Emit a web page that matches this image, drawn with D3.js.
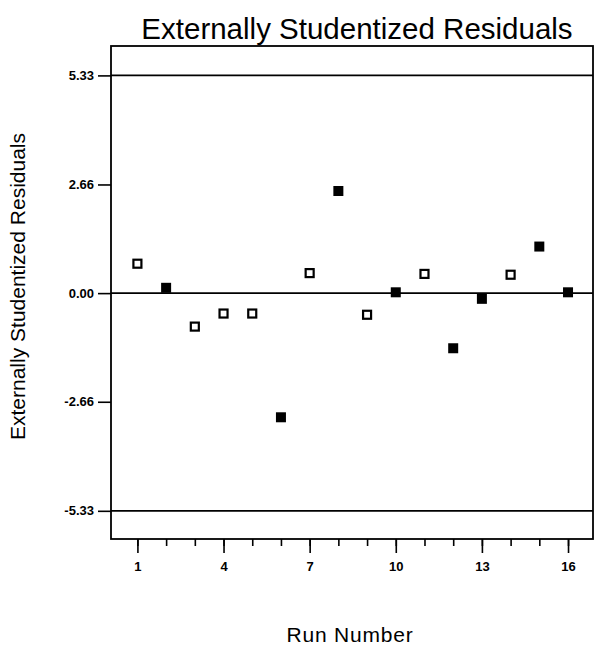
<!DOCTYPE html>
<html>
<head>
<meta charset="utf-8">
<script src="https://cdn.jsdelivr.net/npm/d3@7"></script>
<style>
  html, body { margin: 0; padding: 0; background: #fff; }
  svg { display: block; }
  text { font-family: "Liberation Sans", Arial, sans-serif; fill: #000; }
</style>
</head>
<body>
<svg id="chart" width="596" height="645"></svg>
<script>
// ---- data ----
const runs = [1, 2, 3, 4, 5, 6, 7, 8, 9, 10, 11, 12, 13, 14, 15, 16];
const residuals = [0.72, 0.13, -0.82, -0.50, -0.50, -3.04, 0.49, 2.50, -0.53, 0.02, 0.47, -1.35, -0.14, 0.45, 1.14, 0.02];
const filled = [false, true, false, false, false, true, false, true, false, true, false, true, true, false, true, true];
const yTicks = [5.33, 2.66, 0.00, -2.66, -5.33];
const yTickLabels = ["5.33", "2.66", "0.00", "-2.66", "-5.33"];
const xMajorTicks = [1, 4, 7, 10, 13, 16];
const xMinorTicks = [1, 2, 3, 4, 5, 6, 7, 8, 9, 10, 11, 12, 13, 14, 15, 16];
const refLines = [5.33, 0, -5.33];
const titleText = "Externally Studentized Residuals";
const yLabelText = "Externally Studentized Residuals";
const xLabelText = "Run Number";

// ---- layout ----
const mLeft = 111, mRight = 593, mTop = 46, mBottom = 539;
const svg = d3.select("#chart");

const x = d3.scaleLinear().domain([0.08, 16.87]).range([mLeft, mRight]);
const y = d3.scaleLinear().domain([-6.02, 6.05]).range([mBottom, mTop]);

// frame
svg.append("rect")
  .attr("x", mLeft).attr("y", mTop)
  .attr("width", mRight - mLeft).attr("height", mBottom - mTop)
  .attr("fill", "none").attr("stroke", "#000").attr("stroke-width", 1.8);

// reference lines
svg.selectAll("line.ref").data(refLines).enter().append("line")
  .attr("class", "ref")
  .attr("x1", mLeft).attr("x2", mRight)
  .attr("y1", d => y(d)).attr("y2", d => y(d))
  .attr("stroke", "#000").attr("stroke-width", 1.8);

// y axis
const yAxis = d3.axisLeft(y)
  .tickValues(yTicks)
  .tickFormat((d, i) => yTickLabels[i])
  .tickSize(13).tickPadding(4);
const gy = svg.append("g").attr("transform", `translate(${mLeft},0)`).call(yAxis);
gy.select(".domain").remove();
gy.selectAll(".tick line").attr("stroke", "#000").attr("stroke-width", 1.6);
gy.selectAll(".tick text")
  .style("font-family", '"Liberation Sans", Arial, sans-serif')
  .style("font-size", "13px").style("font-weight", "bold");

// x axis minor ticks
const xMinor = d3.axisBottom(x).tickValues(xMinorTicks).tickSize(7).tickFormat("");
const gxm = svg.append("g").attr("transform", `translate(0,${mBottom})`).call(xMinor);
gxm.select(".domain").remove();
gxm.selectAll(".tick line").attr("stroke", "#000").attr("stroke-width", 1.6);

// x axis major ticks
const xMajor = d3.axisBottom(x).tickValues(xMajorTicks).tickSize(14).tickPadding(9).tickFormat(d3.format("d"));
const gx = svg.append("g").attr("transform", `translate(0,${mBottom})`).call(xMajor);
gx.select(".domain").remove();
gx.selectAll(".tick line").attr("stroke", "#000").attr("stroke-width", 1.6);
gx.selectAll(".tick text")
  .style("font-family", '"Liberation Sans", Arial, sans-serif')
  .style("font-size", "13px").style("font-weight", "bold");

// points
const pts = runs.map((r, i) => ({ r, v: residuals[i], f: filled[i] }));
svg.selectAll("rect.pt").data(pts).enter().append("rect")
  .attr("class", "pt")
  .attr("x", d => x(d.r) - (d.f ? 5 : 4))
  .attr("y", d => y(d.v) - (d.f ? 5 : 4))
  .attr("width", d => d.f ? 10 : 8)
  .attr("height", d => d.f ? 10 : 8)
  .attr("fill", d => d.f ? "#000" : "#fff")
  .attr("stroke", d => d.f ? "none" : "#000")
  .attr("stroke-width", 2.2);

// title
svg.append("text")
  .attr("x", 357).attr("y", 39)
  .attr("text-anchor", "middle")
  .style("font-size", "29.5px")
  .text(titleText);

// y label
svg.append("text")
  .attr("transform", `translate(25,${(130 + 443) / 2}) rotate(-90)`)
  .attr("text-anchor", "middle")
  .style("font-size", "21px")
  .text(yLabelText);

// x label
svg.append("text")
  .attr("x", 350).attr("y", 642)
  .attr("text-anchor", "middle")
  .style("font-size", "21px")
  .style("letter-spacing", "0.8px")
  .text(xLabelText);
</script>
</body>
</html>
